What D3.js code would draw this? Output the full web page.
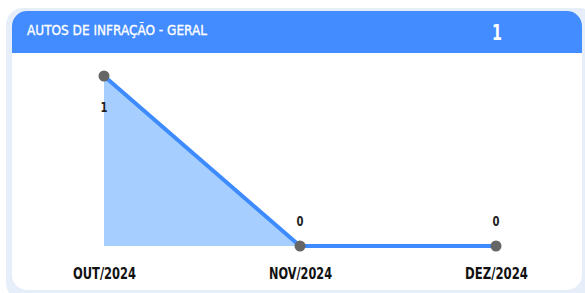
<!DOCTYPE html>
<html>
<head>
<meta charset="utf-8">
<script src="https://cdn.jsdelivr.net/npm/d3@7"></script>
<style>
  html, body { margin: 0; padding: 0; background: #fff; }
  svg { display: block; }
</style>
</head>
<body>
<svg id="chart" width="585" height="293"></svg>
<script>
// data
var months = ["OUT/2024", "NOV/2024", "DEZ/2024"];
var values = [1, 0, 0];
var title = "AUTOS DE INFRAÇÃO - GERAL";
var total = "1";

var width = 585, height = 293;
var font = "'DejaVu Sans', sans-serif";

var svg = d3.select("#chart");

// card shadow + card
svg.append("rect")
  .attr("x", 6).attr("y", 8)
  .attr("width", 590).attr("height", 292)
  .attr("rx", 17)
  .attr("fill", "#e6eefa");

svg.append("rect")
  .attr("x", 12).attr("y", 11)
  .attr("width", 570).attr("height", 279)
  .attr("rx", 15)
  .attr("fill", "#fff");

// header
svg.append("clipPath").attr("id", "hdr")
  .append("rect")
  .attr("x", 12).attr("y", 11)
  .attr("width", 570).attr("height", 279)
  .attr("rx", 15);

svg.append("rect")
  .attr("clip-path", "url(#hdr)")
  .attr("x", 12).attr("y", 11)
  .attr("width", 570).attr("height", 42)
  .attr("fill", "#428cff");

svg.append("text")
  .attr("x", 27).attr("y", 35)
  .attr("fill", "#fff")
  .attr("stroke", "#fff")
  .attr("stroke-width", 0.35)
  .attr("font-family", font)
  .attr("font-size", 14)
  .attr("textLength", 180)
  .attr("lengthAdjust", "spacingAndGlyphs")
  .text(title);

svg.append("text")
  .attr("x", 497).attr("y", 40)
  .attr("text-anchor", "middle")
  .attr("fill", "#fff")
  .attr("font-family", font)
  .attr("font-weight", "bold")
  .attr("font-size", 21)
  .attr("textLength", 10)
  .attr("lengthAdjust", "spacingAndGlyphs")
  .text(total);

// scales
var x = d3.scalePoint().domain(months).range([104, 496]);
var y = d3.scaleLinear().domain([0, 1]).range([246, 76]);

var pts = months.map(function(m, i) { return { m: m, v: values[i] }; });

var area = d3.area()
  .x(function(d) { return x(d.m); })
  .y0(y(0))
  .y1(function(d) { return y(d.v); });

var line = d3.line()
  .x(function(d) { return x(d.m); })
  .y(function(d) { return y(d.v); });

svg.append("path")
  .datum(pts)
  .attr("d", area)
  .attr("fill", "#a6cfff");

svg.append("path")
  .datum(pts)
  .attr("d", line)
  .attr("fill", "none")
  .attr("stroke", "#3d8bff")
  .attr("stroke-width", 4);

svg.selectAll(".dot")
  .data(pts)
  .enter()
  .append("circle")
  .attr("class", "dot")
  .attr("cx", function(d) { return x(d.m); })
  .attr("cy", function(d) { return y(d.v); })
  .attr("r", 5.5)
  .attr("fill", "#666");

// value labels (below the point when it sits at the top)
svg.selectAll(".val")
  .data(pts)
  .enter()
  .append("text")
  .attr("class", "val")
  .attr("x", function(d) { return x(d.m); })
  .attr("y", function(d) {
    var py = y(d.v);
    return py - 27 < 60 ? py + 36 : py - 20;
  })
  .attr("text-anchor", "middle")
  .attr("fill", "#222")
  .attr("font-family", font)
  .attr("font-weight", "bold")
  .attr("font-size", 14)
  .attr("textLength", 7)
  .attr("lengthAdjust", "spacingAndGlyphs")
  .text(function(d) { return d.v; });

// x axis labels
var xAxis = d3.axisBottom(x).tickSize(0).tickPadding(0);
var gx = svg.append("g")
  .attr("transform", "translate(0,268)")
  .call(xAxis);
gx.select(".domain").remove();
gx.selectAll("text")
  .attr("fill", "#111")
  .attr("font-family", font)
  .attr("font-weight", "bold")
  .attr("font-size", 16)
  .attr("textLength", 63)
  .attr("lengthAdjust", "spacingAndGlyphs");
</script>
</body>
</html>
